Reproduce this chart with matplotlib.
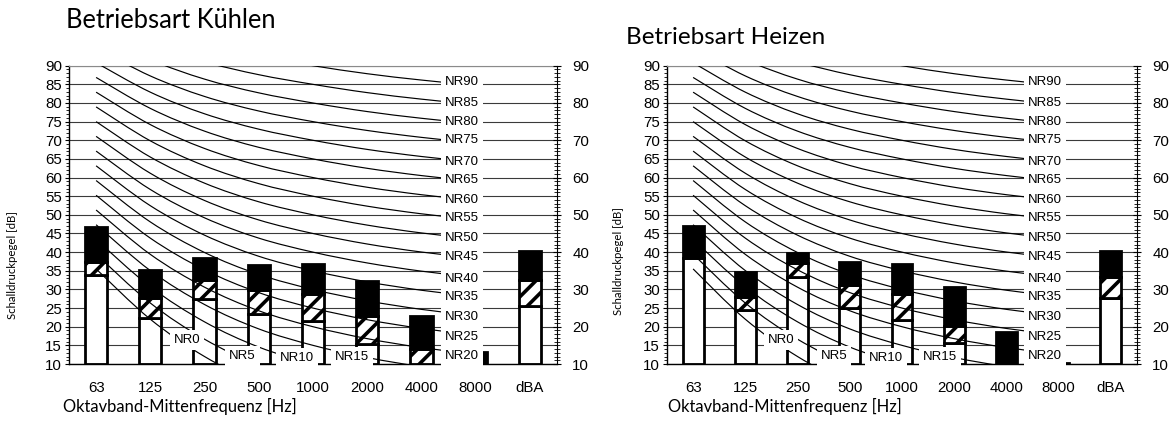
import matplotlib
matplotlib.use('Agg')
import matplotlib.pyplot as plt
import numpy as np
from matplotlib.path import Path
from matplotlib.patches import PathPatch
from matplotlib.ticker import MultipleLocator

# ---------------- data ----------------
categories = ['63', '125', '250', '500', '1000', '2000', '4000', '8000', 'dBA']

# Betriebsart Kühlen (stacked: white part top, hatched part top, total top) [dB]
cool_white = [34.0, 22.4, 27.4, 23.4, 21.5, 15.4, 10.0, 10.0, 25.6]
cool_hatch = [37.4, 27.6, 32.5, 29.8, 28.8, 22.9, 13.9, 10.0, 32.5]
cool_total = [46.8, 35.2, 38.5, 36.5, 36.7, 32.2, 22.9, 13.3, 40.3]

# Betriebsart Heizen
heat_white = [38.3, 24.5, 33.4, 24.9, 21.8, 15.5, 10.0, 10.0, 27.6]
heat_hatch = [38.3, 27.9, 37.0, 31.2, 28.8, 20.2, 10.0, 10.0, 33.4]
heat_total = [47.1, 34.6, 39.9, 37.4, 36.7, 30.6, 18.5, 10.4, 40.3]

# NR curve table (levels per octave band for NR0 ... NR90)
nr_levels = [0, 5, 10, 15, 20, 25, 30, 35, 40, 45, 50, 55, 60, 65, 70, 75, 80, 85, 90]
nr_63 = [35.5, 39.45, 43.4, 47.35, 51.3, 55.25, 59.2, 63.15, 67.1, 71.05, 75.0,
         78.95, 82.9, 86.85, 90.8, 94.75, 98.7, 102.65, 106.6]
nr_125 = [22.0, 26.35, 30.7, 35.05, 39.4, 43.75, 48.1, 52.45, 56.8, 61.15, 65.5,
          69.85, 74.2, 78.55, 82.9, 87.25, 91.6, 95.95, 100.3]
nr_250 = [12.0, 16.65, 21.3, 25.95, 30.6, 35.25, 39.9, 44.55, 49.2, 53.85, 58.5,
          63.15, 67.8, 72.45, 77.1, 81.75, 86.4, 91.05, 95.7]
nr_500 = [4.8, 9.67, 14.54, 19.41, 24.28, 29.15, 34.02, 38.89, 43.76, 48.63, 53.5,
          58.37, 63.24, 68.11, 72.98, 77.85, 82.72, 87.59, 92.46]
nr_1000 = [0, 5, 10, 15, 20, 25, 30, 35, 40, 45, 50, 55, 60, 65, 70, 75, 80, 85, 90]
nr_2000 = [-3.5, 1.58, 6.65, 11.73, 16.8, 21.88, 26.95, 32.03, 37.1, 42.18, 47.25,
           52.33, 57.4, 62.48, 67.55, 72.63, 77.7, 82.78, 87.85]
nr_4000 = [-6.1, -0.98, 4.15, 9.28, 14.4, 19.53, 24.65, 29.78, 34.9, 40.03, 45.15,
           50.28, 55.4, 60.53, 65.65, 70.78, 75.9, 81.03, 86.15]
nr_8000 = [-8.0, -2.85, 2.3, 7.45, 12.6, 17.75, 22.9, 28.05, 33.2, 38.35, 43.5,
           48.65, 53.8, 58.95, 64.1, 69.25, 74.4, 79.55, 84.7]

# label anchor levels of the NR curves in the right-hand label column
nr_label_levels = [12.2, 17.2, 22.7, 28.0, 32.7, 38.8, 43.7, 49.1, 54.0, 59.3,
                   64.2, 70.0, 75.0, 79.9, 85.5]          # NR20 ... NR90
# labels of NR0..NR15 sitting near the bottom: (x in category units, level)
nr_low_label_x = [1.68, 2.70, 3.70, 4.72]
nr_low_label_y = [16.5, 12.1, 11.6, 12.0]

nr_table = np.array([nr_63, nr_125, nr_250, nr_500, nr_1000, nr_2000, nr_4000, nr_8000]).T

# ---------------- style ----------------
W, H = 1175, 421
plt.rcParams['hatch.linewidth'] = 2.6
TICK_FONT = 'Liberation Sans'
TEXT_FONT = 'Lato'

fig = plt.figure(figsize=(W / 100, H / 100), dpi=100)


def smooth_path(xs, ys):
    pts = np.column_stack([xs, ys]).astype(float)
    n = len(pts)
    verts = [pts[0]]
    codes = [Path.MOVETO]
    for i in range(n - 1):
        p0 = pts[i - 1] if i > 0 else pts[i]
        p1 = pts[i]
        p2 = pts[i + 1]
        p3 = pts[i + 2] if i + 2 < n else pts[i + 1]
        verts += [p1 + (p2 - p0) / 6.0, p2 - (p3 - p1) / 6.0, p2]
        codes += [Path.CURVE4] * 3
    return Path(verts, codes)


def draw_panel(rect, white, hatch, total, bar_w):
    ax = fig.add_axes(rect)
    x = np.arange(len(categories))
    ax.set_xlim(-0.5, len(categories) - 0.5)
    ax.set_ylim(10, 90)

    # grid
    ax.set_yticks(np.arange(10, 91, 5))
    ax.yaxis.set_minor_locator(MultipleLocator(1))
    ax.grid(True, axis='y', color='#3a3a3a', lw=0.8, zorder=0)
    ax.set_axisbelow(True)

    # bars
    for i in range(len(categories)):
        segs = [(10.0, white[i], 'white', None),
                (white[i], hatch[i], 'white', '//'),
                (hatch[i], total[i], 'black', None)]
        for b0, b1, fc, ht in segs:
            if b1 - b0 <= 0:
                continue
            ax.bar(x[i], b1 - b0, bottom=b0, width=bar_w, color=fc,
                   edgecolor='black', linewidth=2.0, hatch=ht, zorder=2)

    # NR curves
    xc = np.arange(8)
    for row in nr_table:
        pp = PathPatch(smooth_path(xc, row), fill=False, ec='black', lw=0.85, zorder=3)
        ax.add_patch(pp)

    # NR labels
    bbox = dict(boxstyle='square,pad=0.3', fc='white', ec='none')
    for k, lv in enumerate(nr_levels[4:]):
        ax.text(6.74, nr_label_levels[k], f'NR{lv}', ha='center', va='center',
                fontsize=9.5, family=TICK_FONT, bbox=bbox, zorder=5)
    for k, lv in enumerate(nr_levels[:4]):
        ax.text(nr_low_label_x[k], nr_low_label_y[k], f'NR{lv}', ha='center', va='center',
                fontsize=9.5, family=TICK_FONT, bbox=bbox, zorder=5)

    # axes styling
    ax.set_xticks(x)
    ax.set_xticklabels(categories, family=TICK_FONT, fontsize=10.8)
    ax.tick_params(axis='x', length=0, pad=12)
    ax.tick_params(axis='y', which='major', direction='out', length=3, width=0.8,
                   labelsize=10.8, pad=2)
    ax.tick_params(axis='y', which='minor', direction='out', length=2, width=0.6)
    for lab in ax.get_yticklabels():
        lab.set_family(TICK_FONT)
    ax.spines['top'].set_color('#8a8a8a')
    ax.spines['right'].set_visible(False)
    for s in ('left', 'bottom'):
        ax.spines[s].set_color('black')
        ax.spines[s].set_linewidth(1.0)

    ax2 = ax.twinx()
    ax2.set_ylim(10, 90)
    ax2.set_yticks(np.arange(10, 91, 10))
    ax2.yaxis.set_minor_locator(MultipleLocator(1))
    ax2.tick_params(axis='y', which='major', direction='inout', length=6, width=0.8,
                    labelsize=10.8, pad=8)
    ax2.tick_params(axis='y', which='minor', direction='inout', length=5, width=0.6)
    for lab in ax2.get_yticklabels():
        lab.set_family(TICK_FONT)
    for s in ('left', 'top', 'bottom'):
        ax2.spines[s].set_visible(False)
    ax2.spines['right'].set_color('black')
    return ax


axL = draw_panel([69 / W, 57 / H, 488 / W, 298.3 / H], cool_white, cool_hatch, cool_total, 0.41)
axR = draw_panel([667 / W, 57 / H, 470 / W, 298.3 / H], heat_white, heat_hatch, heat_total, 0.40)

renderer = fig.canvas.get_renderer()


def fit_text(xpx, ypx, s, target, size0, rotation=0, ha='left'):
    t = fig.text(xpx / W, 1 - ypx / H, s, ha=ha, va='center', family=TEXT_FONT,
                 fontsize=size0, rotation=rotation)
    bb = t.get_window_extent(renderer)
    cur = bb.height if rotation else bb.width
    t.set_fontsize(size0 * target / cur)
    return t


fit_text(66, 20, 'Betriebsart Kühlen', 211, 16)
fit_text(626, 38, 'Betriebsart Heizen', 200, 16)
fit_text(63, 406, 'Oktavband-Mittenfrequenz [Hz]', 234, 11)
fit_text(668, 406, 'Oktavband-Mittenfrequenz [Hz]', 234, 11)
fit_text(13, 265, 'Schalldruckpegel [dB]', 108, 7, rotation=90, ha='center')
fit_text(618, 261, 'Schalldruckpegel [dB]', 108, 7, rotation=90, ha='center')

fig.savefig('out.png', dpi=100)
